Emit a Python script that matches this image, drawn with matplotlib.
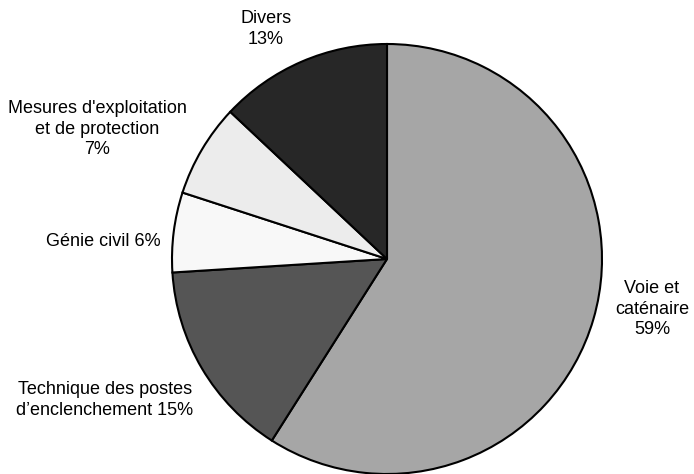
import matplotlib
matplotlib.use("Agg")
import matplotlib.pyplot as plt

plt.rcParams["font.family"] = ["Liberation Sans", "DejaVu Sans"]

# Shares of the budget, clockwise from 12 o'clock
categories = ["Voie et\ncaténaire", "Technique des postes\nd'enclenchement",
              "Génie civil", "Mesures d'exploitation\net de protection", "Divers"]
shares = [59, 15, 6, 7, 13]
colors = ["#a6a6a6", "#555555", "#f8f8f8", "#ececec", "#272727"]

label_texts = [
    "Voie et\ncaténaire\n59%",
    "Technique des postes\nd\u2019enclenchement 15%",
    "Génie civil 6%",
    "Mesures d'exploitation\net de protection\n7%",
    "Divers\n13%",
]

W, H, DPI = 694, 474, 100
CX, CY, R = 387, 259, 215  # pie centre and radius in pixels


def to_data(px, py):
    return (px - CX) / R, (CY - py) / R


fig = plt.figure(figsize=(W / DPI, H / DPI), dpi=DPI)
ax = fig.add_axes([0, 0, 1, 1])
ax.pie(shares, colors=colors, startangle=90, counterclock=False, radius=1.0,
       wedgeprops=dict(edgecolor="black", linewidth=1.5))

# label anchor points (pixel space)
label_pos = [(652, 309), (105, 400), (103, 241), (97, 129), (266, 29)]
for txt, (px, py) in zip(label_texts, label_pos):
    x, y = to_data(px, py)
    ax.text(x, y, txt, ha="center", va="center", multialignment="center",
            fontsize=13, color="black", linespacing=1.25)

x0, y1 = to_data(0, 0)
x1, y0 = to_data(W, H)
ax.set_xlim(x0, x1)
ax.set_ylim(y0, y1)
ax.set_aspect("equal")
ax.axis("off")

fig.savefig("out.png", dpi=DPI, facecolor="white")
